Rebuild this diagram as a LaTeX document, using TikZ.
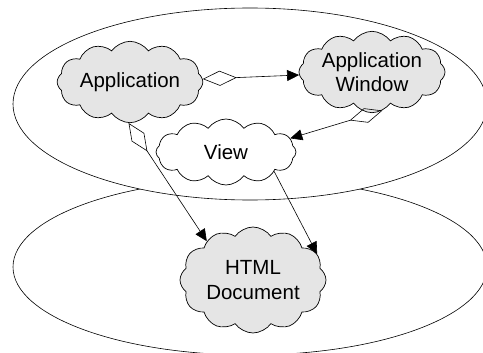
\documentclass[tikz,border=0pt]{standalone}
\usepackage{fontspec}
\setmainfont{Liberation Sans}
\usetikzlibrary{shapes.symbols,arrows.meta}
\begin{document}
\begin{tikzpicture}[x=1pt,y=-1pt,
  layer/.style={draw,line width=0.6pt},
  puff/.style={cloud,draw,line width=0.7pt,cloud puffs=12,cloud puff arc=110,
    aspect=2.2,inner sep=0pt,align=center,
    font=\fontsize{20.5}{24.5}\selectfont},
  grey/.style={fill=black!10},
  link/.style={line width=0.6pt,-{Triangle[length=12pt,width=11pt]}},
  owns/.style={line width=0.6pt,{Diamond[open,length=34pt,width=15pt]}-{Triangle[length=12pt,width=11pt]}}]
\useasboundingbox (0,0) rectangle (483,353);
% two layers: the lower one is partly hidden behind the upper one
\draw[layer] (250,267) ellipse [x radius=237, y radius=88];
\draw[layer,fill=white] (250,104) ellipse [x radius=237, y radius=96];
% components
\node[puff,grey,minimum width=142pt,minimum height=68pt] (app) at (130,82) {Application};
\node[puff,grey,minimum width=146pt,minimum height=72pt] (win) at (372,72) {Application\\Window};
\node[puff,fill=white,minimum width=140pt,minimum height=66pt] (view) at (226,152) {View};
\node[puff,grey,minimum width=146pt,minimum height=106pt] (doc) at (253,280) {HTML\\Document};
% relations
\draw[owns] (app) -- (win);
\draw[owns] (win.-75) -- (view.12);
\draw[owns] (app.-92) -- (doc.140);
\draw[link] (view.-22) -- (doc.22);
\end{tikzpicture}
\end{document}
